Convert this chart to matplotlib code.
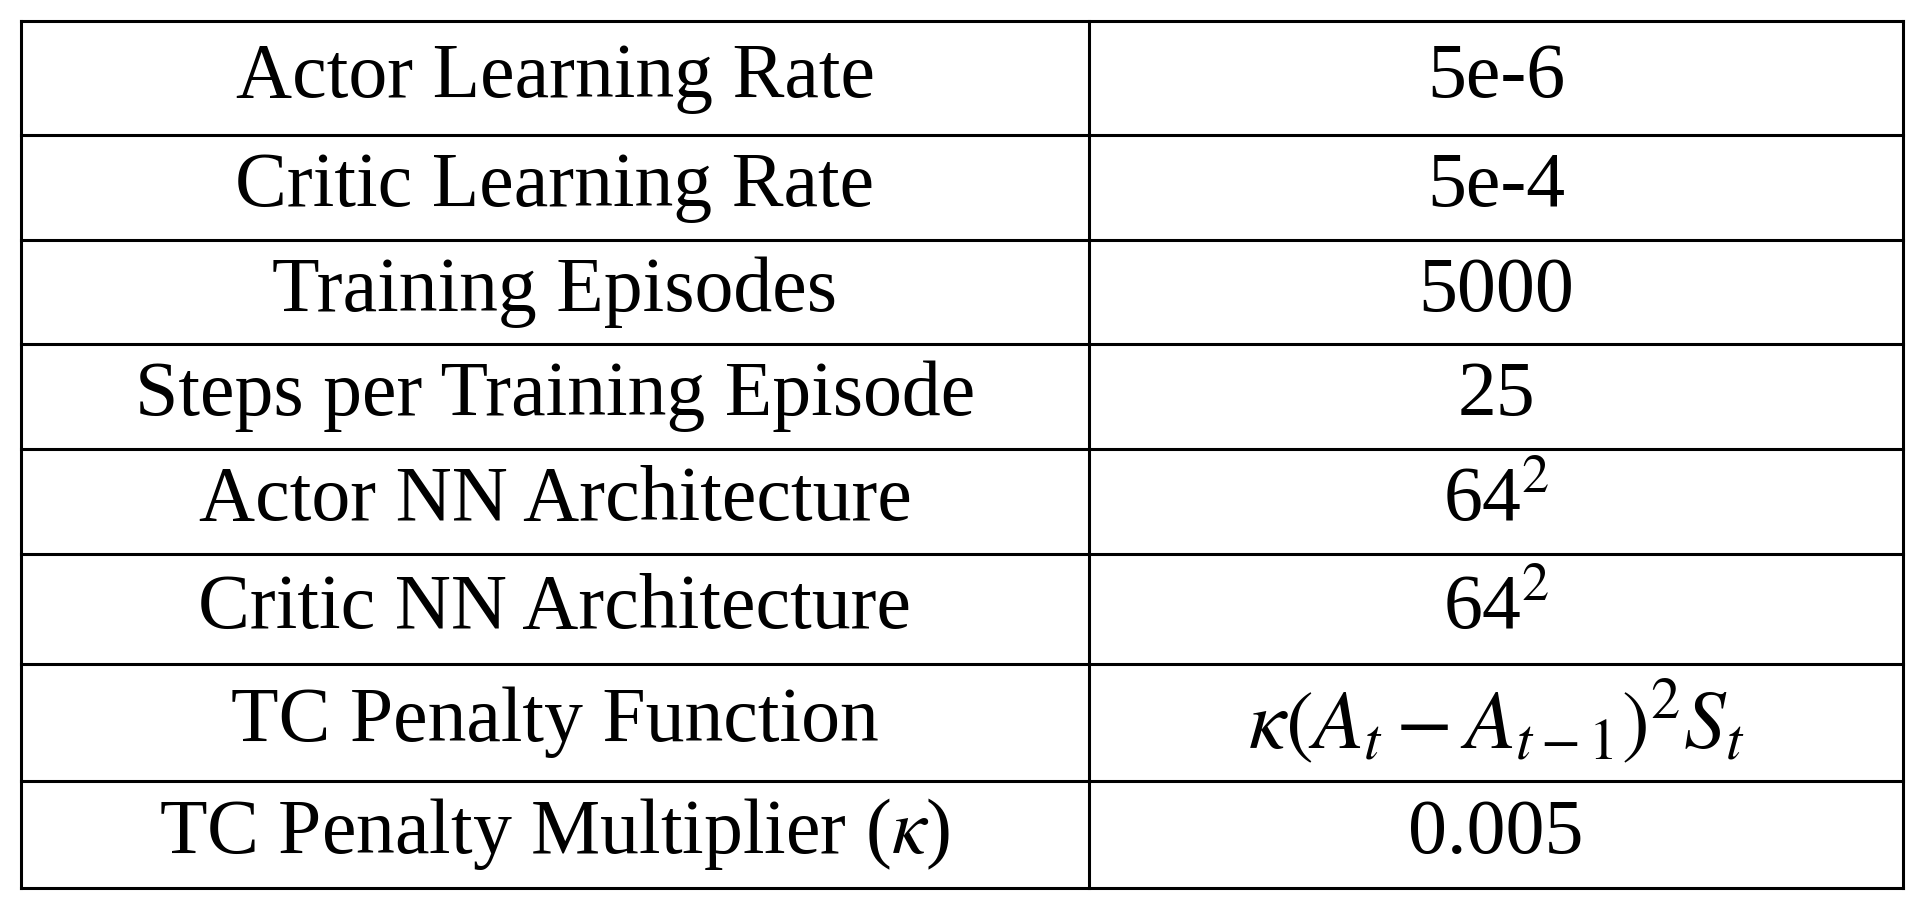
import matplotlib
matplotlib.use("Agg")
import matplotlib.pyplot as plt

plt.rcParams["font.family"] = "Liberation Serif"
plt.rcParams["mathtext.fontset"] = "stix"

params = [
    "Actor Learning Rate",
    "Critic Learning Rate",
    "Training Episodes",
    "Steps per Training Episode",
    "Actor NN Architecture",
    "Critic NN Architecture",
    "TC Penalty Function",
    r"TC Penalty Multiplier ($\kappa$)",
]
values = [
    "5e-6",
    "5e-4",
    "5000",
    "25",
    r"64$^{2}$",
    r"64$^{2}$",
    r"$\kappa(A_t - A_{t-1})^2 S_t$",
    "0.005",
]

# row boundaries in pixels (top to bottom)
row_edges = [21, 135, 240, 344, 449, 554, 664, 781, 888]
x_left, x_mid, x_right = 21, 1089, 1903

fig = plt.figure(figsize=(19.2, 9.09), dpi=100)
ax = fig.add_axes([0, 0, 1, 1])
ax.set_xlim(0, 1920)
ax.set_ylim(909, 0)
ax.axis("off")

for y in row_edges:
    ax.plot([x_left, x_right], [y, y], color="black", lw=2.2)
for x in (x_left, x_mid, x_right):
    ax.plot([x, x], [row_edges[0], row_edges[-1]], color="black", lw=2.2)

for i, (p, v) in enumerate(zip(params, values)):
    yc = (row_edges[i] + row_edges[i + 1]) / 2
    fs = 60 if "kappa(" in v else 56
    ax.text((x_left + x_mid) / 2, yc, p, ha="center", va="center", fontsize=56)
    ax.text((x_mid + x_right) / 2, yc, v, ha="center", va="center", fontsize=fs)

fig.savefig("out.png", dpi=100)
